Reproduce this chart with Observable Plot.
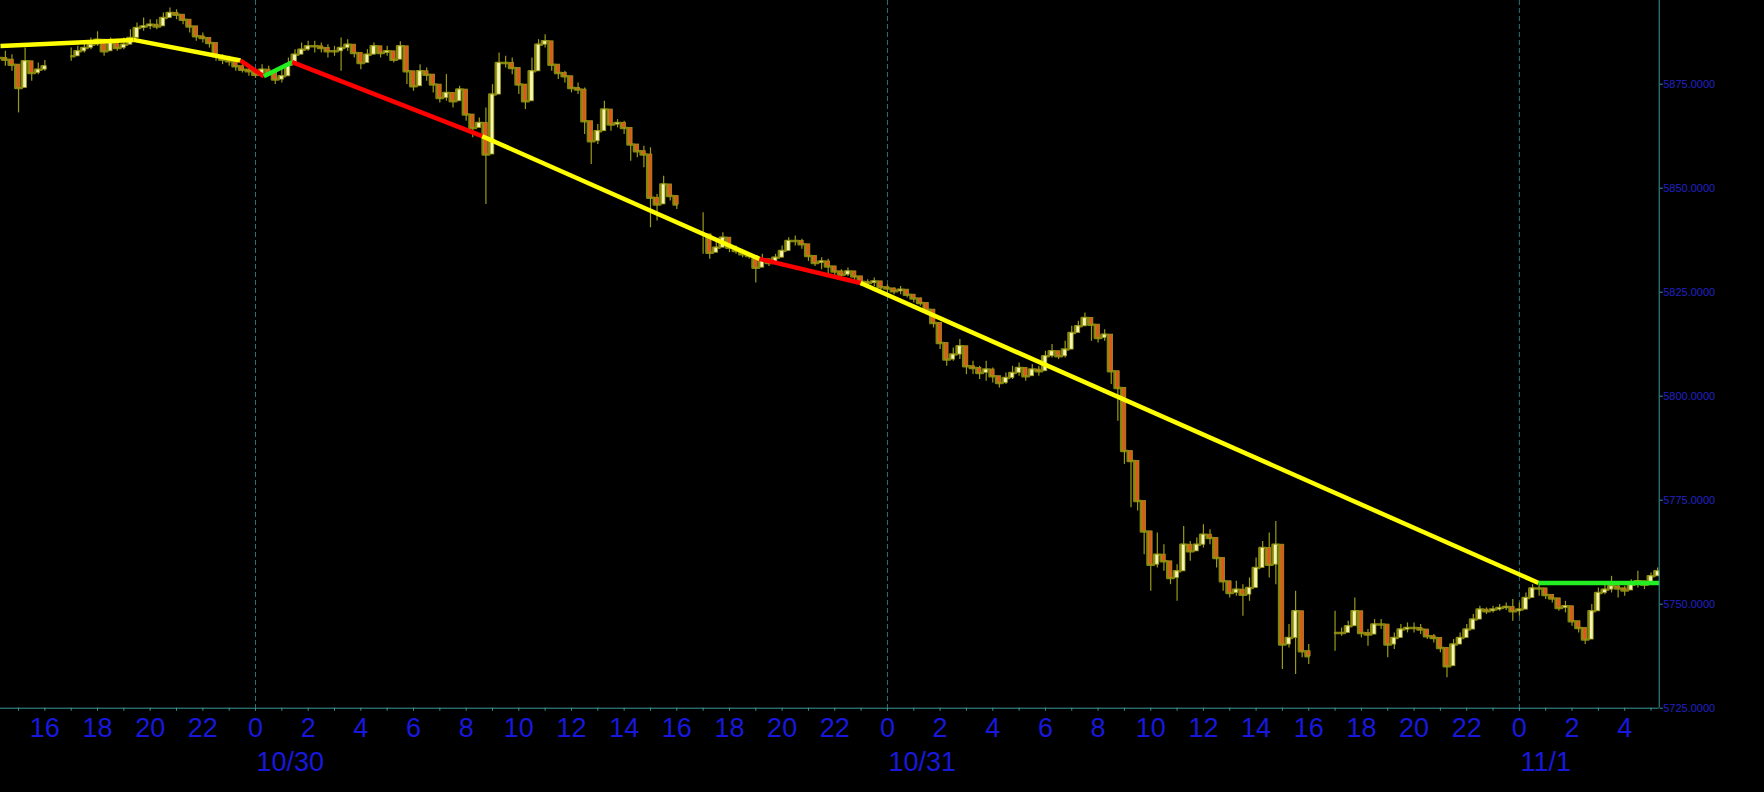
<!DOCTYPE html>
<html><head><meta charset="utf-8">
<script src="https://cdn.jsdelivr.net/npm/d3@7"></script>
<script src="https://cdn.jsdelivr.net/npm/@observablehq/plot@0.6"></script>
<style>html,body{margin:0;padding:0;background:#000;overflow:hidden}</style>
</head><body><div id="chart"></div>
<script>
// Time is in hours from 10/30 00:00. Bars are 15 minutes apart inside each session.
const sessionStarts = [-9.75, -7, 17, 41];
const barStep = 0.25;

const s1Close = [5881.3, 5880.9, 5879.7, 5874.1, 5880.5, 5877.7, 5878.5, 5879.3];
const s1High  = [5882.9, 5882.9, 5882.1, 5879.7, 5883.7, 5879.7, 5880.1, 5880.7];
const s1Low   = [5879.7, 5879.3, 5878.1, 5868.1, 5874.9, 5875.7, 5877.3, 5878.1];

const s2Close = [5881.7, 5882.9, 5883.7, 5884.5, 5885.7, 5882.9, 5884.9, 5883.7, 5884.5, 5886.1, 5888.5, 5888.9, 5889.3, 5888.9, 5890.9, 5892.1, 5891.7, 5890.5, 5888.9, 5886.5, 5886.1, 5884.9, 5881.7, 5880.9, 5880.5, 5879.3, 5878.5, 5878.1, 5877.3, 5878.5, 5877.7, 5876.1, 5876.9, 5879.7, 5882.1, 5883.3, 5884.1, 5884.1, 5883.7, 5882.9, 5882.9, 5883.7, 5884.5,
  5882.5, 5880.1, 5882.1, 5884.1, 5882.5, 5882.9, 5880.9, 5884.1, 5878.1, 5874.5, 5878.1, 5877.3, 5874.9, 5871.7, 5872.9, 5870.9, 5873.7, 5867.7, 5864.5, 5865.7, 5858.1, 5872.5, 5880.1, 5880.1, 5878.9, 5874.9, 5870.9, 5878.1, 5884.5, 5885.3, 5879.7, 5877.7, 5876.9, 5874.1, 5873.7, 5866.1, 5861.3, 5863.7, 5868.9, 5865.3, 5865.7, 5864.5, 5860.5, 5858.9, 5858.1, 5847.7, 5846.1, 5850.9, 5848.1, 5846.1];
const s2High  = [5883.7, 5884.1, 5884.9, 5886.1, 5887.6, 5885.7, 5886.1, 5885.3, 5886.1, 5888.1, 5889.7, 5890.9, 5890.5, 5890.5, 5892.1, 5893.3, 5892.9, 5891.7, 5890.1, 5887.7, 5887.3, 5886.1, 5883.3, 5882.1, 5881.7, 5880.5, 5879.7, 5879.3, 5878.5, 5879.7, 5879.3, 5877.7, 5878.9, 5881.3, 5883.3, 5884.9, 5885.3, 5885.3, 5884.9, 5884.5, 5884.1, 5886.1, 5885.7,
  5884.1, 5882.5, 5883.3, 5884.9, 5883.7, 5884.1, 5882.5, 5885.2, 5881.3, 5876.1, 5879.7, 5878.9, 5877.3, 5873.3, 5877.3, 5872.9, 5874.5, 5870.9, 5866.9, 5866.9, 5869.3, 5874.9, 5882.5, 5881.7, 5881.3, 5878.1, 5874.9, 5881.3, 5885.7, 5886.9, 5882.9, 5879.3, 5878.1, 5875.7, 5875.3, 5874.1, 5863.7, 5865.3, 5870.9, 5866.5, 5866.5, 5866.1, 5862.9, 5860.5, 5860.1, 5859.7, 5848.5, 5852.9, 5849.3, 5847.7];
const s2Low   = [5880.5, 5881.7, 5882.5, 5883.3, 5884.1, 5881.7, 5883.7, 5882.9, 5883.3, 5884.9, 5886.9, 5887.7, 5888.1, 5888.1, 5889.3, 5890.9, 5890.5, 5889.3, 5887.3, 5885.3, 5884.9, 5883.7, 5880.5, 5879.7, 5879.3, 5878.1, 5877.7, 5876.9, 5876.4, 5876.9, 5876.9, 5874.9, 5875.3, 5878.1, 5880.9, 5882.1, 5882.9, 5882.5, 5882.5, 5881.3, 5881.7, 5878.1, 5882.9,
  5881.3, 5878.5, 5880.5, 5882.9, 5881.3, 5881.7, 5880.1, 5881.3, 5874.9, 5873.3, 5876.1, 5875.7, 5872.9, 5870.5, 5870.9, 5869.3, 5871.7, 5866.1, 5862.1, 5864.5, 5846.1, 5866.1, 5878.1, 5878.9, 5877.3, 5872.5, 5868.9, 5874.1, 5882.5, 5883.7, 5878.1, 5876.1, 5875.3, 5872.9, 5872.5, 5862.9, 5855.7, 5860.5, 5866.1, 5863.7, 5864.5, 5862.9, 5856.5, 5857.3, 5854.9, 5840.5, 5842.1, 5848.5, 5846.9, 5844.9];

const s3Close = [5838.9, 5834.5, 5835.7, 5838.1, 5835.7, 5834.9, 5834.1, 5833.7, 5830.9, 5832.9, 5832.0, 5833.3, 5834.9, 5837.3, 5837.3, 5836.5, 5833.7, 5832.0, 5832.4, 5831.2, 5830.0, 5829.2, 5830.0, 5828.8, 5827.5, 5827.2, 5827.6, 5826.2, 5825.9, 5825.2, 5825.6, 5824.4, 5823.5, 5822.4, 5820.8, 5817.6, 5812.8, 5808.8, 5810.0, 5812.0, 5807.2, 5806.8, 5805.6, 5806.4, 5804.8, 5803.2, 5804.4, 5805.6, 5806.8, 5804.8, 5806.4, 5806.0, 5809.6, 5810.8, 5809.6,
  5811.2, 5815.2, 5816.8, 5818.8, 5817.2, 5814.0, 5814.8, 5806.0, 5802.0, 5786.8, 5784.4, 5774.8, 5767.5, 5759.5, 5761.9, 5760.3, 5756.3, 5757.9, 5764.3, 5762.7, 5764.3, 5766.7, 5765.9, 5761.1, 5755.5, 5752.7, 5753.5, 5752.3, 5753.9, 5758.7, 5763.5, 5759.5, 5764.3, 5740.3, 5741.9, 5748.3, 5738.7, 5737.5];
const s3High  = [5844.1, 5836.1, 5837.3, 5839.3, 5836.9, 5836.1, 5835.0, 5834.5, 5833.3, 5834.1, 5832.9, 5834.1, 5836.1, 5838.1, 5838.5, 5837.7, 5834.9, 5833.3, 5833.3, 5832.9, 5831.2, 5830.4, 5830.8, 5830.0, 5828.4, 5828.0, 5828.4, 5827.2, 5826.8, 5826.0, 5826.4, 5825.6, 5824.4, 5823.6, 5822.0, 5820.4, 5816.4, 5810.8, 5811.6, 5813.6, 5808.8, 5808.4, 5807.2, 5808.4, 5806.8, 5804.4, 5805.6, 5807.2, 5808.0, 5806.4, 5807.6, 5807.2, 5810.8, 5812.4, 5810.8,
  5813.2, 5816.8, 5818.0, 5820.0, 5818.4, 5815.6, 5816.0, 5812.4, 5805.2, 5793.2, 5786.8, 5780.4, 5770.7, 5763.5, 5767.1, 5764.3, 5759.5, 5759.5, 5768.7, 5765.1, 5765.9, 5769.1, 5767.9, 5765.1, 5757.9, 5754.7, 5755.5, 5754.7, 5756.3, 5761.1, 5765.1, 5767.1, 5769.9, 5753.1, 5745.1, 5753.1, 5741.1, 5740.3];
const s3Low   = [5834.1, 5832.9, 5834.5, 5836.5, 5834.5, 5834.1, 5833.3, 5832.9, 5827.2, 5831.2, 5831.2, 5832.4, 5833.7, 5835.7, 5836.1, 5835.3, 5832.4, 5831.2, 5830.4, 5829.2, 5828.8, 5828.4, 5828.8, 5827.6, 5826.4, 5826.4, 5826.4, 5825.2, 5824.8, 5824.4, 5824.4, 5823.6, 5822.4, 5821.6, 5819.6, 5816.4, 5811.2, 5807.2, 5808.4, 5808.8, 5805.2, 5805.2, 5804.0, 5803.6, 5803.2, 5802.0, 5802.8, 5804.0, 5804.8, 5803.6, 5804.8, 5804.8, 5807.6, 5809.2, 5808.8,
  5809.2, 5813.2, 5816.0, 5817.2, 5813.2, 5812.8, 5813.2, 5802.8, 5794.0, 5783.6, 5773.2, 5772.4, 5761.9, 5753.1, 5758.7, 5757.9, 5754.7, 5750.7, 5761.1, 5760.3, 5762.7, 5763.5, 5764.3, 5758.7, 5753.1, 5751.5, 5751.9, 5747.1, 5750.7, 5756.3, 5761.1, 5756.3, 5754.7, 5734.3, 5739.5, 5733.1, 5737.1, 5735.5];

const s4Close = [5743.1, 5743.1, 5744.7, 5748.3, 5743.1, 5742.7, 5745.1, 5745.1, 5740.3, 5741.9, 5743.9, 5744.3, 5744.3, 5743.9, 5742.3, 5741.9, 5739.5, 5735.1, 5740.3, 5741.9, 5743.9, 5746.3, 5748.7, 5748.3, 5748.7, 5749.1, 5749.3, 5748.3, 5748.7, 5751.5, 5753.8, 5753.8, 5752.2, 5751.4, 5749.1, 5749.5, 5745.9, 5744.3, 5741.5, 5748.3, 5752.7, 5753.5, 5754.3, 5753.8, 5753.3, 5754.7, 5755.5, 5754.7, 5756.7, 5757.9];
const s4High  = [5748.3, 5744.3, 5745.9, 5751.5, 5745.9, 5743.9, 5746.3, 5746.3, 5743.5, 5743.1, 5745.1, 5745.5, 5745.5, 5745.1, 5743.5, 5742.7, 5740.7, 5739.5, 5741.5, 5743.1, 5745.1, 5747.5, 5749.5, 5749.1, 5749.5, 5749.9, 5750.3, 5751.1, 5750.3, 5752.7, 5754.7, 5754.7, 5753.1, 5752.3, 5750.7, 5750.7, 5747.5, 5745.5, 5743.1, 5749.9, 5753.9, 5754.7, 5756.7, 5755.1, 5754.3, 5755.9, 5757.9, 5755.5, 5757.5, 5758.7];
const s4Low   = [5738.7, 5742.3, 5743.5, 5747.1, 5741.9, 5739.9, 5743.5, 5743.9, 5737.1, 5739.1, 5742.7, 5743.1, 5743.1, 5742.7, 5741.5, 5740.7, 5738.3, 5732.3, 5738.3, 5740.7, 5742.7, 5745.1, 5747.5, 5747.5, 5747.9, 5748.3, 5748.5, 5745.9, 5747.1, 5750.3, 5752.3, 5751.9, 5751.1, 5750.3, 5748.3, 5747.9, 5744.7, 5743.1, 5740.3, 5741.9, 5750.7, 5752.3, 5752.7, 5751.5, 5751.9, 5753.5, 5753.9, 5753.5, 5755.5, 5757.1];

// Trend line vertices (hours, price) and the colour of each segment that follows
const trendTimes  = [-9.685, -4.63, -0.57, 0.315, 1.394, 8.61, 19.14, 22.98, 48.73, 53.31];
const trendPrices = [5884.2, 5885.65, 5880.7, 5876.9, 5880.3, 5862.5, 5833.0, 5827.2, 5755.1, 5755.1];
const trendColors = ["#ffff00", "#ffff00", "#ff0000", "#22ee22", "#ff0000", "#ffff00", "#ff0000", "#ffff00", "#22ee22"];

// Axes
const yTicks = [5725, 5750, 5775, 5800, 5825, 5850, 5875];
const hourMarks = d3.range(-9, 54, 1);
const hourLabelTicks = [-8, -6, -4, -2, 0, 2, 4, 6, 8, 10, 12, 14, 16, 18, 20, 22, 24, 26, 28, 30, 32, 34, 36, 38, 40, 42, 44, 46, 48, 50, 52];
const dayStarts = [0, 24, 48];
const dayLabels = ["10/30", "10/31", "11/1"];

const xDomain = [-9.685, 53.31];
const yDomain = [5725, 5895.12];

// Build candles
const sessions = [[s1Close, s1High, s1Low], [s2Close, s2High, s2Low], [s3Close, s3High, s3Low], [s4Close, s4High, s4Low]];
const candles = sessions.flatMap(([c, h, l], s) => c.map((close, i) => ({
  session: s,
  t: sessionStarts[s] + i * barStep,
  open: i === 0 ? close : c[i - 1],
  close, high: h[i], low: l[i]
})));
const segments = trendColors.map((color, i) => ({
  x1: trendTimes[i], y1: trendPrices[i], x2: trendTimes[i + 1], y2: trendPrices[i + 1], color
}));

const teal = "#3a9898";
const grid = "#2a7272";
const blue = "#1818dc";
const wick = "#9a9a18";
const halfW = 0.07;

const chart = Plot.plot({
  width: 1764, height: 792,
  marginLeft: 0, marginRight: 105.3, marginTop: 0, marginBottom: 84.3,
  x: {type: "linear", domain: xDomain},
  y: {domain: yDomain},
  style: {background: "#000", fontFamily: "'Liberation Sans', Arial, sans-serif"},
  marks: [
    Plot.ruleX(dayStarts, {stroke: grid, strokeDasharray: "5,3", strokeWidth: 1}),
    Plot.line(candles, {x: "t", y: "close", z: "session", stroke: "#84840c", strokeWidth: 2.5, curve: "step"}),
    Plot.ruleX(candles, {x: "t", y1: "low", y2: "high", stroke: wick, strokeWidth: 1.2}),
    Plot.rect(candles, {
      x1: d => d.t - halfW, x2: d => d.t + halfW,
      y1: "open", y2: "close",
      fill: d => d.close >= d.open ? "#f4f4b0" : "#e0561c",
      stroke: wick, strokeWidth: 0.8
    }),
    Plot.link(segments, {x1: "x1", y1: "y1", x2: "x2", y2: "y2", stroke: d => d.color, strokeWidth: 4.5, strokeLinecap: "butt"}),
    Plot.ruleY([yDomain[0]], {stroke: teal, strokeWidth: 1}),
    Plot.ruleX([xDomain[1]], {stroke: teal, strokeWidth: 1}),
    Plot.axisY({anchor: "right", ticks: yTicks, tickSize: 3, tickPadding: 1, tickFormat: d => d.toFixed(4), fontSize: 11, stroke: teal, fill: "#2222c4", label: null}),
    Plot.axisX({ticks: hourMarks, tickSize: 3, tickFormat: () => "", stroke: teal, label: null}),
    Plot.axisX({ticks: hourLabelTicks, tickSize: 0, tickPadding: 10, tickFormat: h => String(((h % 24) + 24) % 24), fontSize: 27, fill: blue, label: null}),
    Plot.text(dayStarts, {x: d => d, frameAnchor: "bottom", text: (d, i) => dayLabels[i], textAnchor: "start", lineAnchor: "top", dx: 1, dy: 44, fontSize: 27, fill: blue})
  ]
});
document.getElementById("chart").appendChild(chart);
</script>
</body></html>
